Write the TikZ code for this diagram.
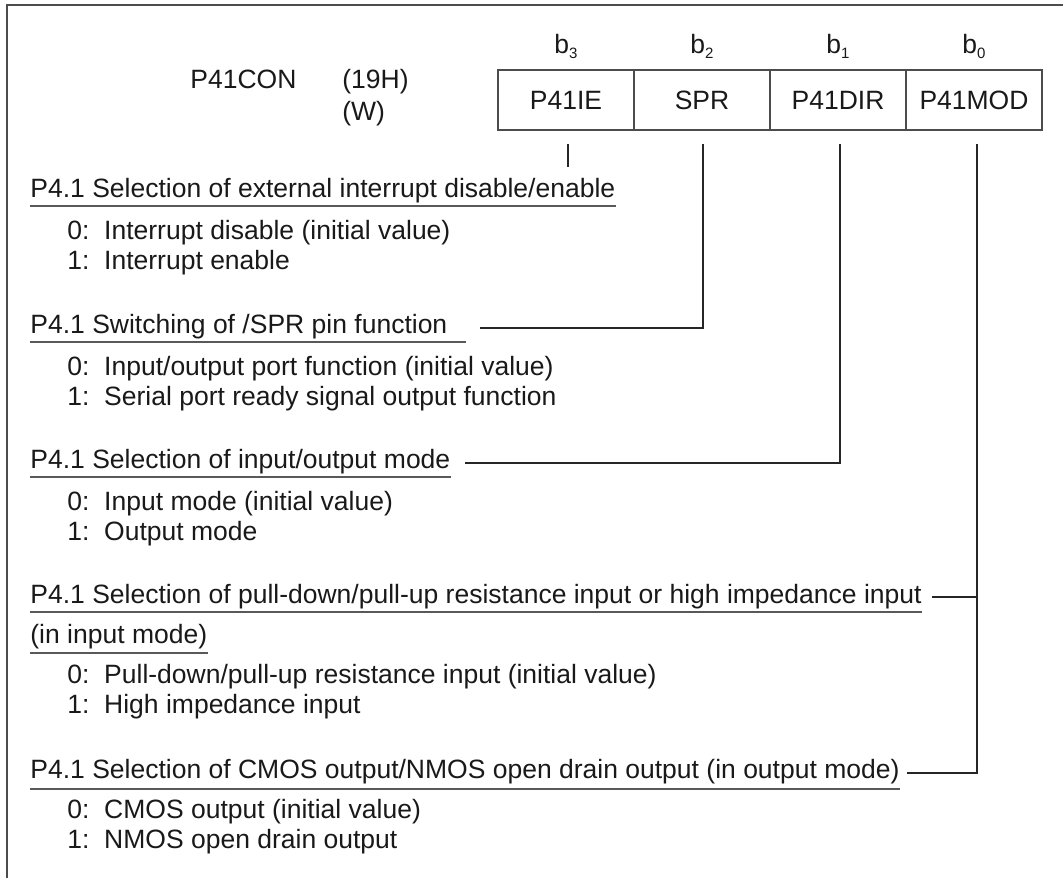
\documentclass[tikz,border=0pt]{standalone}
\usepackage{fontspec}
\setmainfont{Liberation Sans}
\usetikzlibrary{positioning}

\tikzset{
  regcell/.style={draw=black!70, line width=0.75pt, minimum width=68pt,
    minimum height=30pt, inner sep=0pt, outer sep=0pt, text=black!90},
  txt/.style={anchor=base west, inner sep=0pt, text=black!90},
  bitlab/.style={anchor=base, inner sep=0pt, text=black!90},
  conn/.style={line width=0.6pt, black!85},
  uline/.style={line width=0.75pt, black!65},
}
\newcommand{\bitno}[1]{b\raisebox{-2.5pt}{\fontsize{7.5pt}{8pt}\selectfont #1}}

\begin{document}
\begin{tikzpicture}[x=0.5pt, y=-0.5pt, font=\fontsize{13.25pt}{16pt}\selectfont]
  \useasboundingbox (0,0) rectangle (1063,878);

  % frame
  \draw[line width=1pt, black!70] (1063,5) -- (7,5) -- (7,878);

  % -------------------------
  % register P41CON
  % -------------------------
  \node[txt] (regname) at (190,88) {P41CON};
  \node[txt] (addr) at (342,88) {(19H)};
  \node[txt] (rw) at (342,120) {(W)};

  \node[regcell] (ie) at (566,100) {P41IE};
  \node[regcell, right=0pt of ie] (spr) {SPR};
  \node[regcell, right=0pt of spr] (dir) {P41DIR};
  \node[regcell, right=0pt of dir] (mod) {P41MOD};

  \node[bitlab] (b3) at ([yshift=8.5pt]ie.north) {\bitno{3}};
  \node[bitlab] (b2) at ([yshift=8.5pt]spr.north) {\bitno{2}};
  \node[bitlab] (b1) at ([yshift=8.5pt]dir.north) {\bitno{1}};
  \node[bitlab] (b0) at ([yshift=8.5pt]mod.north) {\bitno{0}};

  % -------------------------
  % bit descriptions
  % -------------------------
  \node[txt] (h1) at (30,197) {P4.1 Selection of external interrupt disable/enable};
  \node[txt] (i1a) at (67,239) {0:\ \ Interrupt disable (initial value)};
  \node[txt] (i1b) at (67,269) {1:\ \ Interrupt enable};

  \node[txt] (h2) at (30,333) {P4.1 Switching of /SPR pin function};
  \node[txt] (i2a) at (67,375) {0:\ \ Input/output port function (initial value)};
  \node[txt] (i2b) at (67,405) {1:\ \ Serial port ready signal output function};

  \node[txt] (h3) at (30,468) {P4.1 Selection of input/output mode};
  \node[txt] (i3a) at (67,510) {0:\ \ Input mode (initial value)};
  \node[txt] (i3b) at (67,540) {1:\ \ Output mode};

  \node[txt] (h4) at (30,603) {P4.1 Selection of pull-down/pull-up resistance input or high impedance input};
  \node[txt] (h4b) at (30,643) {(in input mode)};
  \node[txt] (i4a) at (67,683) {0:\ \ Pull-down/pull-up resistance input (initial value)};
  \node[txt] (i4b) at (67,713) {1:\ \ High impedance input};

  \node[txt] (h5) at (30,778) {P4.1 Selection of CMOS output/NMOS open drain output (in output mode)};
  \node[txt] (i5a) at (67,818) {0:\ \ CMOS output (initial value)};
  \node[txt] (i5b) at (67,848) {1:\ \ NMOS open drain output};

  % underlines
  \draw[uline] ([yshift=-4.5pt]h1.base west) -- ([yshift=-4.5pt]h1.base east);
  \draw[uline] ([yshift=-4.5pt]h2.base west) -- ([xshift=9pt,yshift=-4.5pt]h2.base east);
  \draw[uline] ([yshift=-4.5pt]h3.base west) -- ([yshift=-4.5pt]h3.base east);
  \draw[uline] ([yshift=-4.5pt]h4.base west) -- ([yshift=-4.5pt]h4.base east);
  \draw[uline] ([yshift=-5pt]h4b.base west) -- ([yshift=-5pt]h4b.base east);
  \draw[uline] ([yshift=-5.5pt]h5.base west) -- ([yshift=-5.5pt]h5.base east);

  % connectors from the bits
  \draw[conn] ([xshift=1pt,yshift=-7pt]ie.south) -- ([xshift=1pt,yshift=5pt]ie.south |- h1.north);
  \draw[conn] ([xshift=0.5pt,yshift=-7pt]spr.south) |- ([xshift=16pt,yshift=2.5pt]h2.base east);
  \draw[conn] ([xshift=1pt,yshift=-7pt]dir.south) |- ([xshift=7pt,yshift=2.5pt]h3.base east);
  \draw[conn] ([xshift=1.5pt,yshift=-7pt]mod.south) |- ([xshift=3.5pt,yshift=2.5pt]h5.base east);
  \draw[conn] ([xshift=5pt,yshift=3pt]h4.base east) coordinate (h4c) -- ([xshift=1.5pt]h4c -| mod.south);

\end{tikzpicture}
\end{document}
